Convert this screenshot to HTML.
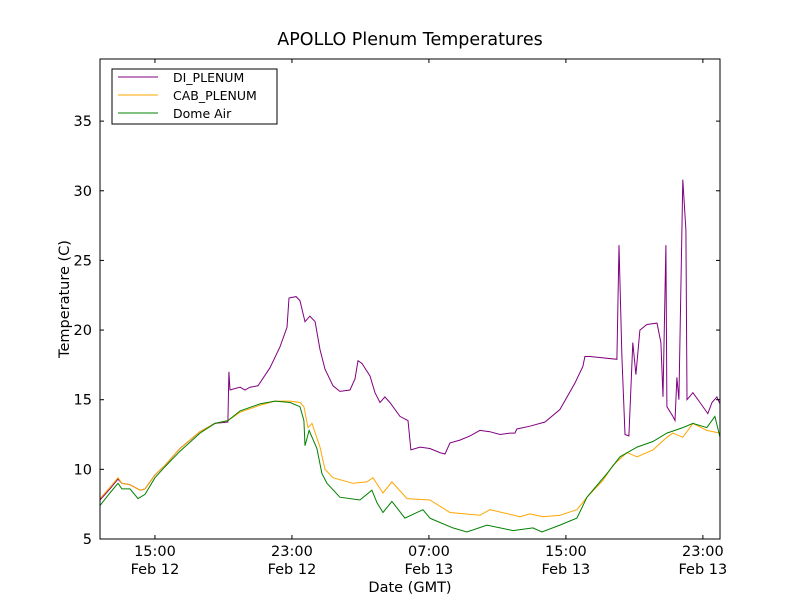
<!DOCTYPE html>
<html><head><meta charset="utf-8"><style>
body{margin:0;background:#fff;}
svg{display:block;font-family:"DejaVu Sans","Liberation Sans",sans-serif;}
</style></head><body>
<svg id="chart" width="800" height="600" viewBox="0 0 800 600">
<rect x="0" y="0" width="800" height="600" fill="#fff"/>
<text x="410" y="45" font-size="17.5" text-anchor="middle">APOLLO Plenum Temperatures</text>
<g id="plot"></g>
<text x="410" y="592" font-size="14.5" text-anchor="middle">Date (GMT)</text>
<text transform="translate(69,299) rotate(-90)" font-size="14.5" text-anchor="middle">Temperature (C)</text>
<g>
<rect x="112" y="69" width="165" height="55" fill="#fff" stroke="#000" stroke-width="1"/>
<g><line x1="118" y1="77" x2="158" y2="77" stroke="#800080"/><text x="173" y="82" font-size="12.5">DI_PLENUM</text></g>
<g><line x1="118" y1="95" x2="158" y2="95" stroke="#ffa500"/><text x="173" y="100" font-size="12.5">CAB_PLENUM</text></g>
<g><line x1="118" y1="113" x2="158" y2="113" stroke="#008000"/><text x="173" y="118" font-size="12.5">Dome Air</text></g>
</g>
</svg>
<script>
// hours since Feb 12 00:00 GMT
const diTimes=[11.79,12.37,12.84,13.07,13.54,14.13,14.42,15.0,15.59,16.46,17.63,18.5,19.26,19.32,19.38,19.97,20.26,20.55,21.02,21.72,22.3,22.71,22.83,23.24,23.47,23.76,24.05,24.35,24.64,24.93,25.4,25.8,26.39,26.68,26.86,27.09,27.56,27.85,28.14,28.43,28.72,29.31,29.78,29.95,30.48,31.06,31.64,31.94,32.23,32.81,33.4,33.98,34.56,35.15,35.73,36.02,36.14,36.9,37.78,38.65,39.53,39.99,40.11,40.4,41.98,42.1,42.27,42.45,42.68,42.91,43.09,43.32,43.73,44.32,44.55,44.67,44.84,44.9,45.25,45.37,45.48,45.6,45.83,46.01,46.07,46.42,46.83,47.29,47.53,47.82,48.0];
const diValues=[7.8,8.6,9.3,9.0,8.9,8.5,8.6,9.6,10.3,11.5,12.7,13.3,13.4,17.0,15.7,15.9,15.7,15.9,16.0,17.3,18.8,20.2,22.3,22.4,22.1,20.6,21.0,20.6,18.6,17.2,16.0,15.6,15.7,16.5,17.8,17.6,16.7,15.5,14.8,15.2,14.8,13.8,13.5,11.4,11.6,11.5,11.2,11.1,11.9,12.1,12.4,12.8,12.7,12.5,12.6,12.6,12.9,13.1,13.4,14.3,16.2,17.4,18.1,18.1,17.9,26.1,18.1,12.5,12.4,19.1,16.8,20.0,20.4,20.5,19.1,15.2,26.1,14.5,13.8,13.5,16.6,15.0,30.8,27.2,15.0,15.5,14.8,14.0,14.8,15.2,14.7];
const cabTimes=[11.79,12.37,12.84,13.07,13.54,14.13,14.42,15.0,15.59,16.46,17.63,18.5,19.26,19.97,21.13,22.01,22.89,23.47,23.7,23.94,24.17,24.64,24.93,25.4,26.56,27.38,27.73,28.32,28.84,29.72,31.06,32.23,33.98,34.56,36.32,36.9,37.66,38.65,39.64,40.23,41.16,41.75,42.56,43.15,44.08,44.9,45.25,45.83,46.42,47.23,48.0];
const cabValues=[7.9,8.7,9.4,9.0,8.9,8.5,8.6,9.6,10.3,11.5,12.7,13.3,13.5,14.1,14.6,14.9,14.9,14.8,14.5,13.0,13.3,11.6,10.0,9.4,9.0,9.1,9.4,8.3,9.1,7.9,7.8,6.9,6.7,7.1,6.6,6.8,6.6,6.7,7.1,8.0,9.2,10.3,11.2,10.9,11.4,12.3,12.6,12.3,13.3,12.8,12.6];
const domeTimes=[11.79,12.37,12.84,13.07,13.54,14.01,14.42,15.0,15.59,16.46,17.63,18.5,19.26,19.97,21.13,22.01,22.89,23.47,23.7,23.76,24.0,24.46,24.75,25.05,25.8,26.97,27.67,27.97,28.32,28.84,29.6,30.65,31.06,31.23,32.4,33.22,34.39,35.91,37.07,37.6,38.65,39.64,40.23,41.4,42.16,43.15,44.08,44.9,45.83,46.42,47.23,47.7,48.0];
const domeValues=[7.4,8.3,9.0,8.6,8.6,7.9,8.2,9.4,10.2,11.3,12.6,13.3,13.5,14.2,14.7,14.9,14.8,14.5,13.5,11.7,12.8,11.5,9.7,9.0,8.0,7.8,8.5,7.6,6.9,7.7,6.5,7.1,6.5,6.4,5.8,5.5,6.0,5.6,5.8,5.5,6.0,6.5,8.0,9.7,10.9,11.6,12.0,12.6,13.0,13.3,13.0,13.8,12.3];
const yTicks=[5,10,15,20,25,30,35];
const xTickHours=[15,23,31,39,47];
const xTickTimes=["15:00","23:00","07:00","15:00","23:00"];
const xTickDates=["Feb 12","Feb 12","Feb 13","Feb 13","Feb 13"];

const L=100,R=720,T=59,B=539,xMin=11.79,xMax=48.0,yMin=5,yMax=39.46;
const sx=h=>L+(h-xMin)/(xMax-xMin)*(R-L);
const sy=v=>B-(v-yMin)/(yMax-yMin)*(B-T);
const NS="http://www.w3.org/2000/svg";
const plot=document.getElementById('plot');
function mk(tag,attrs){const e=document.createElementNS(NS,tag);for(const k in attrs)e.setAttribute(k,attrs[k]);plot.appendChild(e);return e;}
function series(ts,vs,color,name){
  const pts=ts.map((t,i)=>sx(t).toFixed(1)+','+sy(vs[i]).toFixed(1)).join(' ');
  const p=mk('polyline',{points:pts,fill:'none',stroke:color,'stroke-width':1});
  
  
}
series(diTimes,diValues,'#800080','di-plenum-line');
series(cabTimes,cabValues,'#ffa500','cab-plenum-line');
series(domeTimes,domeValues,'#008000','dome-air-line');
yTicks.forEach(v=>{
  const y=sy(v);
  mk('line',{x1:L,y1:y,x2:L+4,y2:y,stroke:'#000'});
  mk('line',{x1:R,y1:y,x2:R-4,y2:y,stroke:'#000'});
  const t=mk('text',{x:L-8,y:y+5,'font-size':14.5,'text-anchor':'end'});
  t.textContent=v;
  
  
});
xTickHours.forEach((h,i)=>{
  const x=sx(h);
  mk('line',{x1:x,y1:B,x2:x,y2:B-4,stroke:'#000'});
  mk('line',{x1:x,y1:T,x2:x,y2:T+4,stroke:'#000'});
  const t=mk('text',{x:x,y:556,'font-size':14.5,'text-anchor':'middle'});
  t.textContent=xTickTimes[i];
  
  
  const d=mk('text',{x:x,y:574,'font-size':14.5,'text-anchor':'middle'});
  d.textContent=xTickDates[i];
  
  
});
const frame=mk('rect',{x:L,y:T,width:R-L,height:B-T,fill:'none',stroke:'#000','stroke-width':1});


</script>
</body></html>
